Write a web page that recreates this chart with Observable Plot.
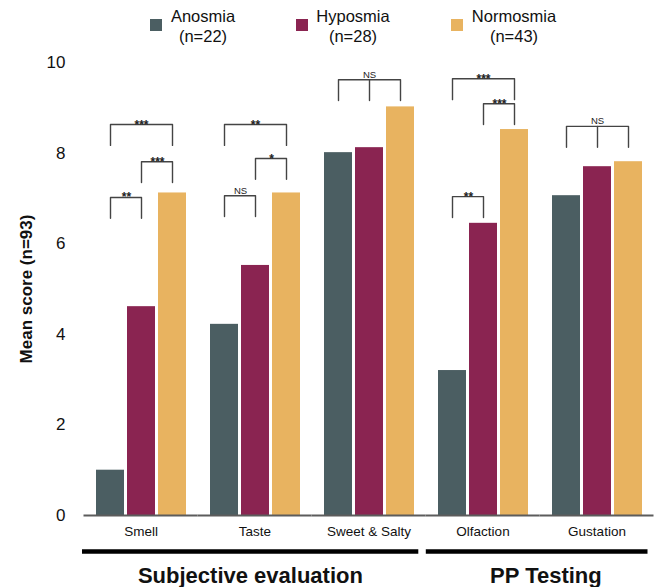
<!DOCTYPE html>
<html>
<head>
<meta charset="utf-8">
<script src="https://cdn.jsdelivr.net/npm/d3@7"></script>
<script src="https://cdn.jsdelivr.net/npm/@observablehq/plot@0.6"></script>
<style>
  body { margin: 0; background: #fff; font-family: "Liberation Sans", Arial, sans-serif; }
  #wrap { position: relative; width: 659px; height: 587px; }
  #legend { position: relative; height: 50px; }
  .sw { position: absolute; top: 19px; width: 12px; height: 12px; }
  .lab { position: absolute; top: 6px; text-align: center; font-size: 16.5px; line-height: 20px; color: #111; transform: translateX(-50%); white-space: nowrap; }
  svg { display: block; }
  svg [aria-label="y-axis label"] text { font-weight: bold; font-size: 17px; }
</style>
</head>
<body>
<div id="wrap">
  <div id="legend"></div>
  <div id="main"></div>
  <div id="lower"></div>
</div>
<script>
// ---- data ----
const categories = ["Smell", "Taste", "Sweet & Salty", "Olfaction", "Gustation"];
const groups = ["Anosmia", "Hyposmia", "Normosmia"];
const groupCounts = [22, 28, 43];
const colors = ["#4b5e62", "#8a2451", "#e8b360"];
const anosmia   = [1.00, 4.22, 8.01, 3.20, 7.06];
const hyposmia  = [4.61, 5.52, 8.12, 6.45, 7.70];
const normosmia = [7.12, 7.12, 9.02, 8.52, 7.81];
const yTicks = [0, 2, 4, 6, 8, 10];
const yLabel = "Mean score (n=93)";
const sections = [
  {name: "Subjective evaluation", first: "Smell", last: "Sweet & Salty"},
  {name: "PP Testing", first: "Olfaction", last: "Gustation"}
];
// significance brackets: level in score units
const brackets = [
  {category: "Smell", from: "Anosmia", to: "Normosmia", level: 8.63, label: "***"},
  {category: "Smell", from: "Hyposmia", to: "Normosmia", level: 7.81, label: "***"},
  {category: "Smell", from: "Anosmia", to: "Hyposmia", level: 7.02, label: "**"},
  {category: "Taste", from: "Anosmia", to: "Normosmia", level: 8.63, label: "**"},
  {category: "Taste", from: "Hyposmia", to: "Normosmia", level: 7.88, label: "*"},
  {category: "Taste", from: "Anosmia", to: "Hyposmia", level: 7.06, label: "NS"},
  {category: "Sweet & Salty", from: "Anosmia", to: "Normosmia", level: 9.62, label: "NS", three: true},
  {category: "Olfaction", from: "Anosmia", to: "Normosmia", level: 9.64, label: "***"},
  {category: "Olfaction", from: "Hyposmia", to: "Normosmia", level: 9.09, label: "***"},
  {category: "Olfaction", from: "Anosmia", to: "Hyposmia", level: 7.04, label: "**"},
  {category: "Gustation", from: "Anosmia", to: "Normosmia", level: 8.59, label: "NS", three: true}
];
const legDrop = 0.46;

// ---- derived tables ----
const series = [anosmia, hyposmia, normosmia];
const rows = categories.flatMap((c, i) => groups.map((g, j) => ({category: c, group: g, value: series[j][i]})));
const bracketPts = brackets.flatMap((b, k) => {
  const lo = b.level - legDrop;
  const pts = [
    {id: k + "a", category: b.category, group: b.from, y: lo},
    {id: k + "a", category: b.category, group: b.from, y: b.level},
    {id: k + "a", category: b.category, group: b.to, y: b.level},
    {id: k + "a", category: b.category, group: b.to, y: lo}
  ];
  if (b.three) pts.push(
    {id: k + "m", category: b.category, group: "Hyposmia", y: b.level},
    {id: k + "m", category: b.category, group: "Hyposmia", y: lo}
  );
  return pts;
});
const wide = brackets.filter(b => b.from === "Anosmia" && b.to === "Normosmia");
const pair = brackets.filter(b => !(b.from === "Anosmia" && b.to === "Normosmia"));
const isStars = b => b.label !== "NS";
const sectionSpans = sections.map(s => ({
  name: s.name,
  start: categories.indexOf(s.first),
  end: categories.indexOf(s.last) + 1
}));

// ---- legend ----
const legend = document.getElementById("legend");
const swX = [150, 296, 451];
const labX = [203, 353, 514];
groups.forEach((g, i) => {
  const s = document.createElement("div");
  s.className = "sw"; s.style.left = swX[i] + "px"; s.style.background = colors[i];
  legend.appendChild(s);
  const t = document.createElement("div");
  t.className = "lab"; t.style.left = labX[i] + "px";
  t.innerHTML = g + "<br>(n=" + groupCounts[i] + ")";
  legend.appendChild(t);
});

const font = "'Liberation Sans', Arial, sans-serif";

// ---- main chart ----
const main = Plot.plot({
  width: 659, height: 490,
  marginTop: 12, marginBottom: 25, marginLeft: 82, marginRight: 4,
  style: {fontFamily: font, color: "#111", background: "#fff"},
  fx: {domain: categories, paddingInner: 0.2, paddingOuter: 0.1, label: null},
  x: {domain: groups, axis: null, paddingInner: 0.1, paddingOuter: 0},
  y: {domain: [0, 10]},
  color: {domain: groups, range: colors},
  marks: [
    Plot.barY(rows, {fx: "category", x: "group", y: "value", fill: "group"}),
    Plot.ruleY([0], {stroke: "#5c5c5c", strokeWidth: 2, insetLeft: -11.5, insetRight: -11.5}),
    Plot.line(bracketPts, {fx: "category", x: "group", y: "y", z: "id", stroke: "#444", strokeWidth: 1.4}),
    Plot.text(wide.filter(isStars), {fx: "category", x: () => "Hyposmia", y: "level", text: "label", fontSize: 12, fontWeight: "bold", lineAnchor: "bottom", dy: 4, fill: "#222"}),
    Plot.text(wide.filter(b => !isStars(b)), {fx: "category", x: () => "Hyposmia", y: "level", text: "label", fontSize: 9.5, lineAnchor: "bottom", dy: -2, fill: "#222"}),
    Plot.text(pair.filter(isStars), {fx: "category", x: "from", y: "level", text: "label", fontSize: 12, fontWeight: "bold", lineAnchor: "bottom", dx: 16, dy: 4, fill: "#222"}),
    Plot.text(pair.filter(b => !isStars(b)), {fx: "category", x: "from", y: "level", text: "label", fontSize: 9.5, lineAnchor: "bottom", dx: 16, dy: -2, fill: "#222"}),
    Plot.axisY({ticks: yTicks, tickSize: 0, tickPadding: 17, dx: -13, fontSize: 17, label: yLabel, labelAnchor: "center", labelOffset: 76, labelArrow: "none"}),
    Plot.axisFx({anchor: "bottom", tickSize: 0, tickPadding: 11, fontSize: 13.5, label: null})
  ]
});
document.getElementById("main").appendChild(main);

// ---- section labels ----
const lower = Plot.plot({
  width: 659, height: 47,
  marginTop: 11, marginBottom: 12, marginLeft: 82, marginRight: 4,
  style: {fontFamily: font, color: "#111", background: "#fff"},
  x: {domain: [0, categories.length], axis: null},
  y: {domain: [0, 1], axis: null},
  marks: [
    Plot.ruleY(sectionSpans, {x1: "start", x2: "end", y: () => 1, stroke: "#000", strokeWidth: 4.5, insetLeft: 0, insetRight: 7.5}),
    Plot.text(sectionSpans.slice(0, 1), {x: d => (d.start + d.end) / 2, y: () => 0, text: "name", fontSize: 22, fontWeight: "bold", dx: -4}),
    Plot.text(sectionSpans.slice(1), {x: d => (d.start + d.end) / 2, y: () => 0, text: "name", fontSize: 22, fontWeight: "bold", dx: 5})
  ]
});
document.getElementById("lower").appendChild(lower);
</script>
</body>
</html>
